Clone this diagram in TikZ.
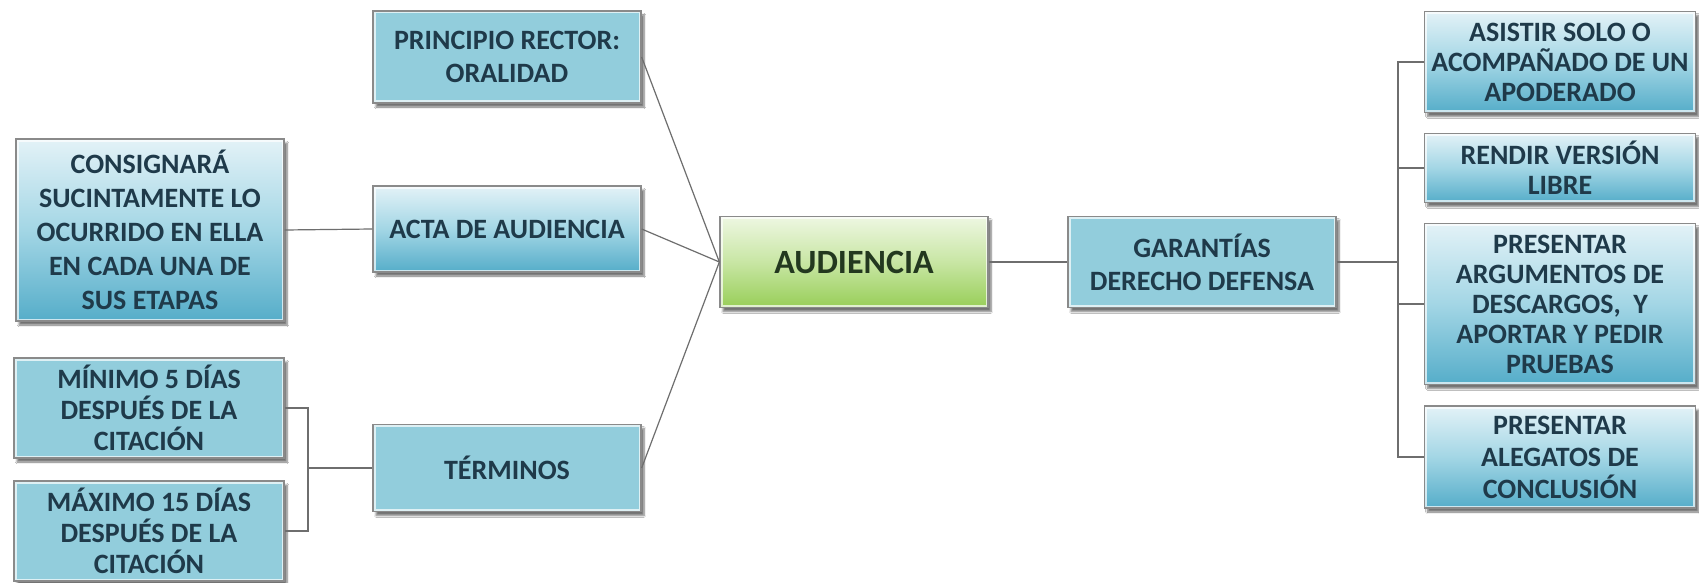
\documentclass[tikz,border=0pt]{standalone}
\usepackage{fontspec}
\setmainfont{Carlito}
\usetikzlibrary{shadows.blur}
\definecolor{txt}{HTML}{1F3A4A}
\definecolor{greentxt}{HTML}{23381F}
\definecolor{edge}{HTML}{8A8A8A}
\definecolor{conn}{HTML}{6E6E6E}
\definecolor{bluetop}{HTML}{E3F2F7}
\definecolor{bluemid}{HTML}{A3D6E5}
\definecolor{bluebot}{HTML}{55ADC9}
\definecolor{flatblue}{HTML}{92CDDC}
\definecolor{greentop}{HTML}{EEF7E2}
\definecolor{greenmid}{HTML}{C8E6A4}
\definecolor{greenbot}{HTML}{98CE58}
\tikzset{
  mmbox/.style={draw=edge, line width=1.3pt, inner sep=0pt, align=center, text=txt,
    font=\bfseries\fontsize{28}{31}\selectfont,
    blur shadow={shadow xshift=3pt, shadow yshift=-4pt, shadow blur steps=6, shadow opacity=55},
    path picture={\draw[white, opacity=0.7, line width=5pt] (path picture bounding box.south west) rectangle (path picture bounding box.north east);}},
  gradbox/.style={mmbox, top color=bluetop, bottom color=bluebot, middle color=bluemid},
  flatbox/.style={mmbox, fill=flatblue},
  greenbox/.style={mmbox, top color=greentop, bottom color=greenbot, middle color=greenmid, text=greentxt,
    font=\bfseries\fontsize{34}{40}\selectfont},
  conn/.style={draw=conn, line width=1.2pt}
}
\begin{document}
\begin{tikzpicture}[x=1pt, y=-1pt]
\useasboundingbox[fill=white] (0,0) rectangle (1699,583);
% left column
\node[flatbox, minimum width=268pt, minimum height=92pt, font=\bfseries\fontsize{28}{33}\selectfont] (principio) at (507,57) {PRINCIPIO RECTOR:\\ORALIDAD};
\node[gradbox, minimum width=268pt, minimum height=182pt, font=\bfseries\fontsize{28}{34}\selectfont] (consignara) at (150,230) {CONSIGNARÁ\\SUCINTAMENTE LO\\OCURRIDO EN ELLA\\EN CADA UNA DE\\SUS ETAPAS};
\node[gradbox, minimum width=268pt, minimum height=86pt] (acta) at (507,229) {ACTA DE AUDIENCIA};
\node[flatbox, minimum width=270pt, minimum height=100pt] (minimo) at (149,408) {MÍNIMO 5 DÍAS\\DESPUÉS DE LA\\CITACIÓN};
\node[flatbox, minimum width=270pt, minimum height=100pt] (maximo) at (149,531) {MÁXIMO 15 DÍAS\\DESPUÉS DE LA\\CITACIÓN};
\node[flatbox, minimum width=268pt, minimum height=87pt] (terminos) at (507,468) {TÉRMINOS};
% centre
\node[greenbox, minimum width=268pt, minimum height=91pt] (audiencia) at (854,262) {AUDIENCIA};
\node[flatbox, minimum width=268pt, minimum height=91pt, font=\bfseries\fontsize{28}{33}\selectfont] (garantias) at (1202,262) {GARANTÍAS\\DERECHO DEFENSA};
% right column
\node[gradbox, minimum width=271pt, minimum height=101pt, font=\bfseries\fontsize{28}{30}\selectfont] (asistir) at (1560,62) {ASISTIR SOLO O\\ACOMPAÑADO DE UN\\APODERADO};
\node[gradbox, minimum width=271pt, minimum height=69pt, font=\bfseries\fontsize{28}{30}\selectfont] (rendir) at (1560,168) {RENDIR VERSIÓN\\LIBRE};
\node[gradbox, minimum width=271pt, minimum height=161pt, font=\bfseries\fontsize{28}{30}\selectfont] (argumentos) at (1560,304) {PRESENTAR\\ARGUMENTOS DE\\DESCARGOS,~ Y\\APORTAR Y PEDIR\\PRUEBAS};
\node[gradbox, minimum width=271pt, minimum height=102pt, font=\bfseries\fontsize{28}{32}\selectfont] (alegatos) at (1560,457) {PRESENTAR\\ALEGATOS DE\\CONCLUSIÓN};
% connectors
\draw[conn] (principio.east) -- (audiencia.west);
\draw[conn] (acta.east) -- (audiencia.west);
\draw[conn] (terminos.east) -- (audiencia.west);
\draw[conn] (acta.west) -- (consignara.east);
\draw[conn] (terminos.west) -- (308,468) coordinate (lj);
\draw[conn] (minimo.east) -| (lj);
\draw[conn] (maximo.east) -| (lj);
\draw[conn] (audiencia.east) -- (garantias.west);
\draw[conn] (garantias.east) -- (1398,262) coordinate (rj);
\draw[conn] (rj) |- (asistir.west);
\draw[conn] (rj) |- (rendir.west);
\draw[conn] (rj) |- (argumentos.west);
\draw[conn] (rj) |- (alegatos.west);
\end{tikzpicture}
\end{document}
